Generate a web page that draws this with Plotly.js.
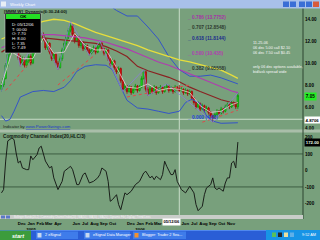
<!DOCTYPE html>
<html><head><meta charset="utf-8">
<script src="https://cdn.plot.ly/plotly-3.0.1.min.js"></script>
<style>html,body{margin:0;padding:0;background:#78A07C;overflow:hidden}#chart{width:320px;height:240px}</style>
</head><body><div id="chart"></div>
<script>
// ---- weekly bars (week ending Friday) ----
const nWeeks = 114;
const openP = [7.6,8.0,8.6,9.8,10.8,11.8,12.5,12.0,11.2,10.5, 10.0,10.3,9.8,10.2,10.6,10.0,11.0,11.8,12.4,12.0, 12.6,12.2,11.4,11.8,11.0,10.4,10.8,10.0,9.6,10.4, 11.2,11.8,12.4,13.0,13.4,12.6,12.0,12.4,11.6,11.9, 11.3,11.6,11.2,10.9,11.2,11.4,11.0,11.5,11.8,11.3, 10.9,11.2,10.4,9.9,10.2,9.6,9.2,9.5,8.4,7.6, 7.9,7.4,7.8,7.3,7.6,7.9,7.5,7.8,8.6,9.2, 7.6,7.2,7.7,7.4,7.8,7.3,7.6,7.8,7.4,7.7, 7.9,7.5,7.7,7.4,7.8,7.70,7.5,7.6,7.3,7.5, 7.2,7.4,6.8,6.4,6.0,6.3,5.8,6.1,5.7,5.9, 5.5,5.2,5.0,5.3,5.6,5.4,5.8,5.6,6.0,6.2, 6.0,6.4,6.3,6.0];
const highP = [8.3,8.8,10.0,11.0,12.2,13.0,12.8,12.3,11.5,10.7, 10.6,10.5,10.4,10.8,10.8,11.2,12.0,12.6,12.7,12.9, 12.8,12.3,12.0,11.9,11.2,11.0,10.9,10.2,10.6,11.4, 12.0,12.6,13.2,13.8,13.6,12.8,12.6,12.5,12.1,12.0, 11.8,11.7,11.3,11.4,11.6,11.5,11.7,12.0,11.9,11.4, 11.4,11.3,10.5,10.4,10.3,9.7,9.7,9.6,8.5,8.1, 8.0,8.0,7.9,7.8,8.1,8.0,8.0,8.8,9.4,9.3, 7.8,7.9,7.8,8.0,7.9,7.8,8.0,7.9,7.9,8.1, 8.0,7.9,7.8,8.0,7.9,8.00,7.8,7.7,7.7,7.6, 7.6,7.5,6.9,6.5,6.5,6.4,6.3,6.2,6.1,6.0, 5.6,5.3,5.5,5.8,5.7,6.0,5.9,6.2,6.4,6.3, 6.6,6.5,6.4,7.27];
const lowP = [7.4,7.8,8.5,9.6,10.6,11.5,11.8,11.0,10.3,9.7, 9.8,9.6,9.6,10.0,9.8,9.9,10.8,11.6,11.8,11.9, 12.0,11.2,11.2,10.8,10.2,10.2,9.8,9.4,9.5,10.2, 11.0,11.6,12.2,12.8,12.4,11.8,11.9,11.4,11.4,11.1, 11.2,11.0,10.7,10.8,11.0,10.8,10.9,11.4,11.1,10.7, 10.8,10.2,9.7,9.8,9.4,9.0,9.1,8.2,7.4,7.5, 7.2,7.3,7.1,7.2,7.5,7.3,7.4,7.7,8.5,7.4, 7.0,7.1,7.2,7.3,7.1,7.2,7.5,7.2,7.3,7.6, 7.3,7.4,7.2,7.3,7.5,7.35,7.4,7.1,7.2,7.0, 7.1,6.6,6.2,5.8,5.9,5.6,5.7,5.5,5.6,5.3, 5.0,4.6,4.9,5.2,5.2,5.3,5.4,5.5,5.9,5.8, 5.9,6.1,5.8,5.8];
const closeP = [8.0,8.6,9.8,10.8,11.8,12.5,12.0,11.2,10.5,10.0, 10.3,9.8,10.2,10.6,10.0,11.0,11.8,12.4,12.0,12.6, 12.2,11.4,11.8,11.0,10.4,10.8,10.0,9.6,10.4,11.2, 11.8,12.4,13.0,13.4,12.6,12.0,12.4,11.6,11.9,11.3, 11.6,11.2,10.9,11.2,11.4,11.0,11.5,11.8,11.3,10.9, 11.2,10.4,9.9,10.2,9.6,9.2,9.5,8.4,7.6,7.9, 7.4,7.8,7.3,7.6,7.9,7.5,7.8,8.6,9.2,7.6, 7.2,7.7,7.4,7.8,7.3,7.6,7.8,7.4,7.7,7.9, 7.5,7.7,7.4,7.8,7.7,7.49,7.6,7.3,7.5,7.2, 7.4,6.8,6.4,6.0,6.3,5.8,6.1,5.7,5.9,5.5, 5.2,5.0,5.3,5.6,5.4,5.8,5.6,6.0,6.2,6.0, 6.4,6.3,6.0,7.05];

// ---- overlay lines (read at sample weeks) ----
const maWeeks   = [0,5,10,15,20,25,30,35,40,45,50,55,60,65,70,75,80,85,90,95,100,105,110,113];
const yellowMA  = [12.2,12.6,13.1,13.5,13.8,14.0,13.9,13.6,13.2,12.8,12.5,12.2,11.9,11.6,11.2,10.9,10.6,10.3,10.1,9.85,9.6,9.35,8.9,8.6];
const magentaMA = [11.4,11.8,12.2,12.5,12.6,12.6,12.5,12.4,12.3,12.1,11.9,11.6,11.3,10.9,10.5,10.1,9.8,9.4,9.0,8.6,8.2,7.8,7.45,7.3];
const brownMA   = [11.0,11.6,12.0,12.3,12.3,12.2,12.1,12.0,11.9,11.8,11.5,11.1,10.6,9.7,9.3,9.0,8.7,8.3,7.8,7.4,7.0,6.65,6.4,6.35];
const shortMA   = [8.0,11.0,10.4,10.4,12.3,10.9,11.0,12.7,11.6,11.2,11.2,9.6,7.8,7.7,8.1,7.5,7.7,7.6,7.3,6.1,5.5,5.6,6.2,6.4];
const bbUpper   = [16.5,17.5,17.5,17.0,16.5,16.2,16.0,16.5,16.5,16.0,15.5,14.8,14.3,14.3,13.3,12.2,10.6,9.4,8.8,8.8,8.9,8.65,8.3,8.1];
const bbLowWeeks = [0,2,4,6,9,15,20,25,30,33,36,40,45,50,53,56,58,60,65,70,75,80,85,88,91,95,98,101,105,110,113];
const bbLower    = [5.2,4.7,4.85,5.6,6.9,7.4,7.5,7.4,7.8,8.4,9.25,9.7,9.85,9.8,9.4,8.2,7.4,6.6,5.9,5.8,5.6,5.4,5.6,6.4,6.7,6.3,5.2,4.7,4.5,4.5,4.55];
const zigWeeks = [0,5,9,19,27,33,42,47,58,68,70,79,101,113];
const zigVals  = [7.4,13.0,9.7,12.9,9.4,13.8,10.7,12.0,7.4,9.4,7.0,8.1,4.6,7.27];
const trendWeeks = [[2,15],[27,45],[60,90],[96,113]];
const trendVals  = [[7.5,10.4],[8.0,10.8],[6.9,8.0],[4.6,5.7]];

// ---- CCI(20,HLC/3) ----
const cciWeeks = [0,1,2,3,5,6,7,8,9,10,12,13,14,15,17,18,19,20,21,23,24,25,27,29,30,32,33,34,36,37,39,40,41,42,44,46,47,48,50,51,52,53,55,56,57,58,59,60,62,63,64,66,68,69,71,72,73,74,76,77,78,79,81,82,83,84,86,88,89,90,92,93,94,96,97,98,100,101,102,103,104,106,107,108,109,110,111,112,113];
const cciVals  = [-136,-116,57,179,197,187,106,45,57,15,5,5,88,65,96,136,147,96,57,15,25,-45,-116,-66,-5,15,25,5,-86,-86,-25,-15,-45,-76,-66,-45,-25,15,-5,-66,-187,-177,-147,-207,-238,-177,-136,-147,-126,-106,-86,-66,-15,-5,-45,-35,-56,-35,-56,-25,56,25,-25,-25,5,-66,-116,-136,-116,-96,-136,-207,-244,-217,-147,-106,-86,-45,-106,-116,-106,-126,-76,-45,-45,45,56,15,172];

// ---- Fibonacci levels ----
const fibRatios = ['0.786','0.707','0.618','0.500','0.382','0.000'];
const fibLevels = [13.7752,12.8548,11.8144,10.435,9.05558,4.60];
const fibLabels = ['13.7752','12.8548','11.8144','10.435','9.05558','4.60'];
const fibColors = ['#A634A6','#2E3A30','#1C2C8C','#B23CB2','#2E3A30','#2244D8'];

// ---- axis ticks ----
const tickDates = ['2004-12-01','2005-01-01','2005-02-01','2005-03-01','2005-04-01','2005-06-01','2005-07-01','2005-08-01','2005-09-01','2005-10-01','2005-12-01','2006-01-01','2006-02-01','2006-03-01','2006-06-01','2006-07-01','2006-08-01','2006-09-01','2006-10-01','2006-11-01'];
const tickText  = ['Dec','Jan<br>2005','Feb','Mar','Apr','Jun','Jul','Aug','Sep','Oct','Dec','Jan<br>2006','Feb','Mar','Jun','Jul','Aug','Sep','Oct','Nov'];
const priceTicks = [4,6,8,10,12,14];
const cciTicks = [200,100,0,-100,-200];

const dates = [];
for (let i = 0; i < nWeeks; i++) {
  dates.push(new Date(Date.UTC(2004, 8, 24 + 7 * i)).toISOString().slice(0, 10));
}
const wx = arr => arr.map(i => dates[i]);
const cursorDate = dates[85];

const BG = '#78A07C';
const F = 'Arial, "Liberation Sans", sans-serif';
const P = x => x / 320, Q = y => (240 - y) / 240;

const traces = [];
const line = (w, v, color, width, dash, yaxis) => ({type:'scatter', mode:'lines', x: wx(w), y: v, yaxis: yaxis || 'y',
  line:{color, width, dash: dash || 'solid'}, hoverinfo:'skip', showlegend:false});
traces.push(line(maWeeks, bbUpper, '#3454C8', 1));
traces.push(line(bbLowWeeks, bbLower, '#3454C8', 1));
traces.push(line(maWeeks, yellowMA, '#E6DE3C', 1.3));
traces.push(line(maWeeks, magentaMA, '#B03CB0', 1.2));
traces.push(line(maWeeks, brownMA, '#8A2222', 1.2));
trendWeeks.forEach((w, k) => traces.push(line(w, trendVals[k], '#E04848', 1, 'dot')));
traces.push(line(zigWeeks, zigVals, '#8C7ED6', 0.8));
traces.push(line(maWeeks, shortMA, '#E6D2D8', 0.8));
traces.push({type:'candlestick', x: dates, open: openP, high: highP, low: lowP, close: closeP,
  increasing:{line:{color:'#0A9A0A', width:0.8}, fillcolor:'#22EE22'},
  decreasing:{line:{color:'#A00808', width:0.8}, fillcolor:'#F01414'},
  hoverinfo:'skip', showlegend:false, yaxis:'y'});
traces.push({type:'scatter', mode:'lines', x: wx(cciWeeks), y: cciVals, yaxis:'y2',
  line:{color:'#1A1F1A', width:1}, hoverinfo:'skip', showlegend:false});

const rect = (x0, y0, x1, y1, fill, lc) => ({type:'rect', xref:'paper', yref:'paper', x0:P(x0), x1:P(x1), y0:Q(y1), y1:Q(y0),
  fillcolor: fill, line:{width: lc ? 0.6 : 0, color: lc || fill}, layer:'above'});
const shapes = [
  {type:'line', xref:'paper', yref:'y2', x0:0, x1:P(303), y0:100, y1:100, line:{color:'#3E5E42', width:1}, layer:'below'},
  {type:'line', xref:'paper', yref:'y2', x0:0, x1:P(303), y0:-100, y1:-100, line:{color:'#3E5E42', width:1}, layer:'below'},
  {type:'line', xref:'x', yref:'paper', x0:cursorDate, x1:cursorDate, y0:Q(215), y1:Q(8), line:{color:'#C8DCC8', width:1}, layer:'below'},
  {type:'line', xref:'paper', yref:'y', x0:0, x1:P(303), y0:4.87, y1:4.87, line:{color:'#C8DCC8', width:1}, layer:'below'},
  rect(0, 129.5, 320, 132.5, '#A9BEA9'),
  {type:'line', xref:'paper', yref:'paper', x0:P(303), x1:P(303), y0:Q(219), y1:Q(8), line:{color:'#2C4430', width:1}, layer:'above'},
  rect(0, 215, 303, 219, '#C9CDC9'),
  rect(1, 215.5, 5, 218.5, '#5A78C8'), rect(6, 215.5, 10, 218.5, '#5A78C8'),
  rect(0, 0, 320, 8.5, '#A8C0EA'),
  rect(1, 1.5, 6, 6.5, '#E8EEF6'),
  rect(283, 1.5, 289, 7, '#3A6ED6'), rect(290, 1.5, 296, 7, '#3A6ED6'),
  rect(299, 1.5, 305, 7, '#3A6ED6'), rect(306, 1.5, 312, 7, '#3A6ED6'), rect(313, 1.5, 319, 7, '#D85A3C'),
  rect(5, 13, 41, 53, '#000000', '#BFC8BF'),
  rect(6, 14, 40, 19, '#24E024'),
  rect(0, 230, 320, 240, '#2A5ED6'),
  rect(0, 230, 320, 231, '#5088EE'),
  rect(0, 230.5, 31, 240, '#3C9C3C'),
  rect(36, 231.5, 78, 239, '#3F7CEA'),
  rect(84, 231.5, 130, 239, '#3F7CEA'),
  rect(133, 231.5, 186, 239, '#3F7CEA'),
  rect(37.5, 233, 41.5, 237.5, '#C8D8F0'), rect(85.5, 233, 89.5, 237.5, '#C8D8F0'), rect(134.5, 233, 138.5, 237.5, '#F09030'),
  rect(266, 230, 320, 240, '#1794E6'),
  rect(272, 232.5, 276, 237, '#58C058'), rect(278, 232.5, 282, 237, '#202830'), rect(284, 232.5, 288, 237, '#E8E0A0'), rect(290, 232.5, 294, 237, '#60B0E8')
];

const ann = [];
const txt = (x, y, text, size, color, opts) => Object.assign({xref:'paper', yref:'paper', x:P(x), y:Q(y), text,
  showarrow:false, xanchor:'left', yanchor:'middle', font:{family:F, size, color}}, opts || {});
ann.push(txt(8, 4.3, 'Weekly Chart', 4.2, '#FFFFFF'));
ann.push(txt(2, 11.5, '[MMM,W]  Dynamic(6:30-24:00)', 4.3, '#101810', {font:{family:F, size:4.3, color:'#101810', weight:'bold'}}));
ann.push(txt(23, 16.5, 'OK', 4.3, '#000000', {xanchor:'center', font:{family:F, size:4.3, color:'#000', weight:'bold'}}));
const okLines = ['D: 05/12/06','T: 00:00','O: 7.70','H: 8.00','L: 7.35','C: 7.49'];
okLines.forEach((t, k) => ann.push(txt(10, 24.3 + k * 4.7, t, 4.2, '#F4F4F4')));
fibRatios.forEach((r, k) => ann.push({xref:'x', yref:'y', x:'2006-06-01', y:fibLevels[k], xanchor:'left', yanchor:'bottom',
  text:'_ ' + r + ' (' + fibLabels[k] + ')', showarrow:false, font:{family:F, size:4.8, color:fibColors[k], weight:'bold'}}));
ann.push(txt(251, 43, '11-25-06', 3.8, '#F6F6F6'));
ann.push(txt(251, 48, '06 dec 5.00 call $2.10', 3.8, '#F6F6F6'));
ann.push(txt(251, 53, '06 dec 7.50 call $0.45', 3.8, '#F6F6F6'));
ann.push(txt(251, 67, 'only 06 dec options available,', 3.8, '#F6F6F6'));
ann.push(txt(251, 72, 'bid/ask spread wide', 3.8, '#F6F6F6'));
ann.push(txt(1, 126, 'Indicator by <span style="fill:#2038C8;text-decoration:underline">www.PowerSwings.com</span>', 4.2, '#1A221A'));
ann.push(txt(1, 136.5, 'Commodity Channel Index(20,HLC/3)', 4.7, '#101810', {font:{family:F, size:4.7, color:'#101810', weight:'bold'}}));
ann.push(txt(303.5, 96.5, closeP[nWeeks - 1].toFixed(2), 4.6, '#000', {bgcolor:'#22EE22', borderpad:0.8, font:{family:F, size:4.6, color:'#000', weight:'bold'}}));
ann.push(txt(303.5, 119.8, '4.8706', 4.3, '#000', {bgcolor:'#FFFFFF', borderpad:0.6, font:{family:F, size:4.3, color:'#000', weight:'bold'}}));
ann.push(txt(303.5, 142.5, cciVals[cciVals.length - 1].toFixed(2), 4.3, '#E6FFE6', {bgcolor:'#000000', borderpad:0.8, font:{family:F, size:4.3, color:'#E6FFE6', weight:'bold'}}));
ann.push(txt(171, 222.3, '05/12/06', 4.1, '#000', {xanchor:'center', bgcolor:'#FFFFFF', borderpad:0.4,
  font:{family:F, size:4.1, color:'#000', weight:'bold'}}));
ann.push(txt(12, 217, 'Bollinger Bands(20,2) | Commodity Channel Index(20) | MA(50) | MA(30) | MA(20) | Dynamic Fib | ZigZag | Trend Lines', 2.6, '#F4F6F4'));
ann.push(txt(9.5, 235.5, 'start', 5.6, '#FFFFFF', {font:{family:F, size:5.6, color:'#FFF', weight:'bold', style:'italic'}}));
ann.push(txt(43, 235.3, '2 eSignal', 3.8, '#FFFFFF'));
ann.push(txt(91, 235.3, 'eSignal Data Manager', 3.8, '#FFFFFF'));
ann.push(txt(140, 235.3, 'Blogger: Trader 2 Sea...', 3.8, '#FFFFFF'));
ann.push(txt(300, 235.3, '9:52 AM', 3.8, '#FFFFFF'));

const layout = {
  width:320, height:240, margin:{l:0, r:0, t:0, b:0},
  paper_bgcolor:BG, plot_bgcolor:BG, showlegend:false,
  font:{family:F, color:'#000'},
  xaxis:{type:'date', domain:[0, P(303)], anchor:'y2', range:['2004-09-19','2007-06-30'],
    tickvals:tickDates, ticktext:tickText, tickangle:0, ticks:'', ticklabelstandoff:5, showgrid:false, zeroline:false, showline:false,
    rangeslider:{visible:false}, tickfont:{family:F, size:4.3, color:'#000', weight:'bold'}, fixedrange:true},
  yaxis:{domain:[Q(129), Q(8)], anchor:'x', side:'right', range:[3.98, 15.03], tickvals:priceTicks,
    ticktext:priceTicks.map(v => v.toFixed(2)), ticks:'', showgrid:false, zeroline:false, showline:false,
    ticklabelstandoff:1, tickfont:{family:F, size:4.6, color:'#000', weight:'bold'}, fixedrange:true},
  yaxis2:{domain:[Q(215), Q(133)], anchor:'x', side:'right', range:[-270, 227], tickvals:cciTicks,
    ticktext:cciTicks.map(String), ticks:'', showgrid:false, zeroline:false, showline:false,
    ticklabelstandoff:1, tickfont:{family:F, size:4.6, color:'#000', weight:'bold'}, fixedrange:true},
  boxgap:0.05,
  shapes, annotations: ann
};
Plotly.newPlot('chart', traces, layout, {staticPlot:true, displayModeBar:false});
</script>
</body></html>
